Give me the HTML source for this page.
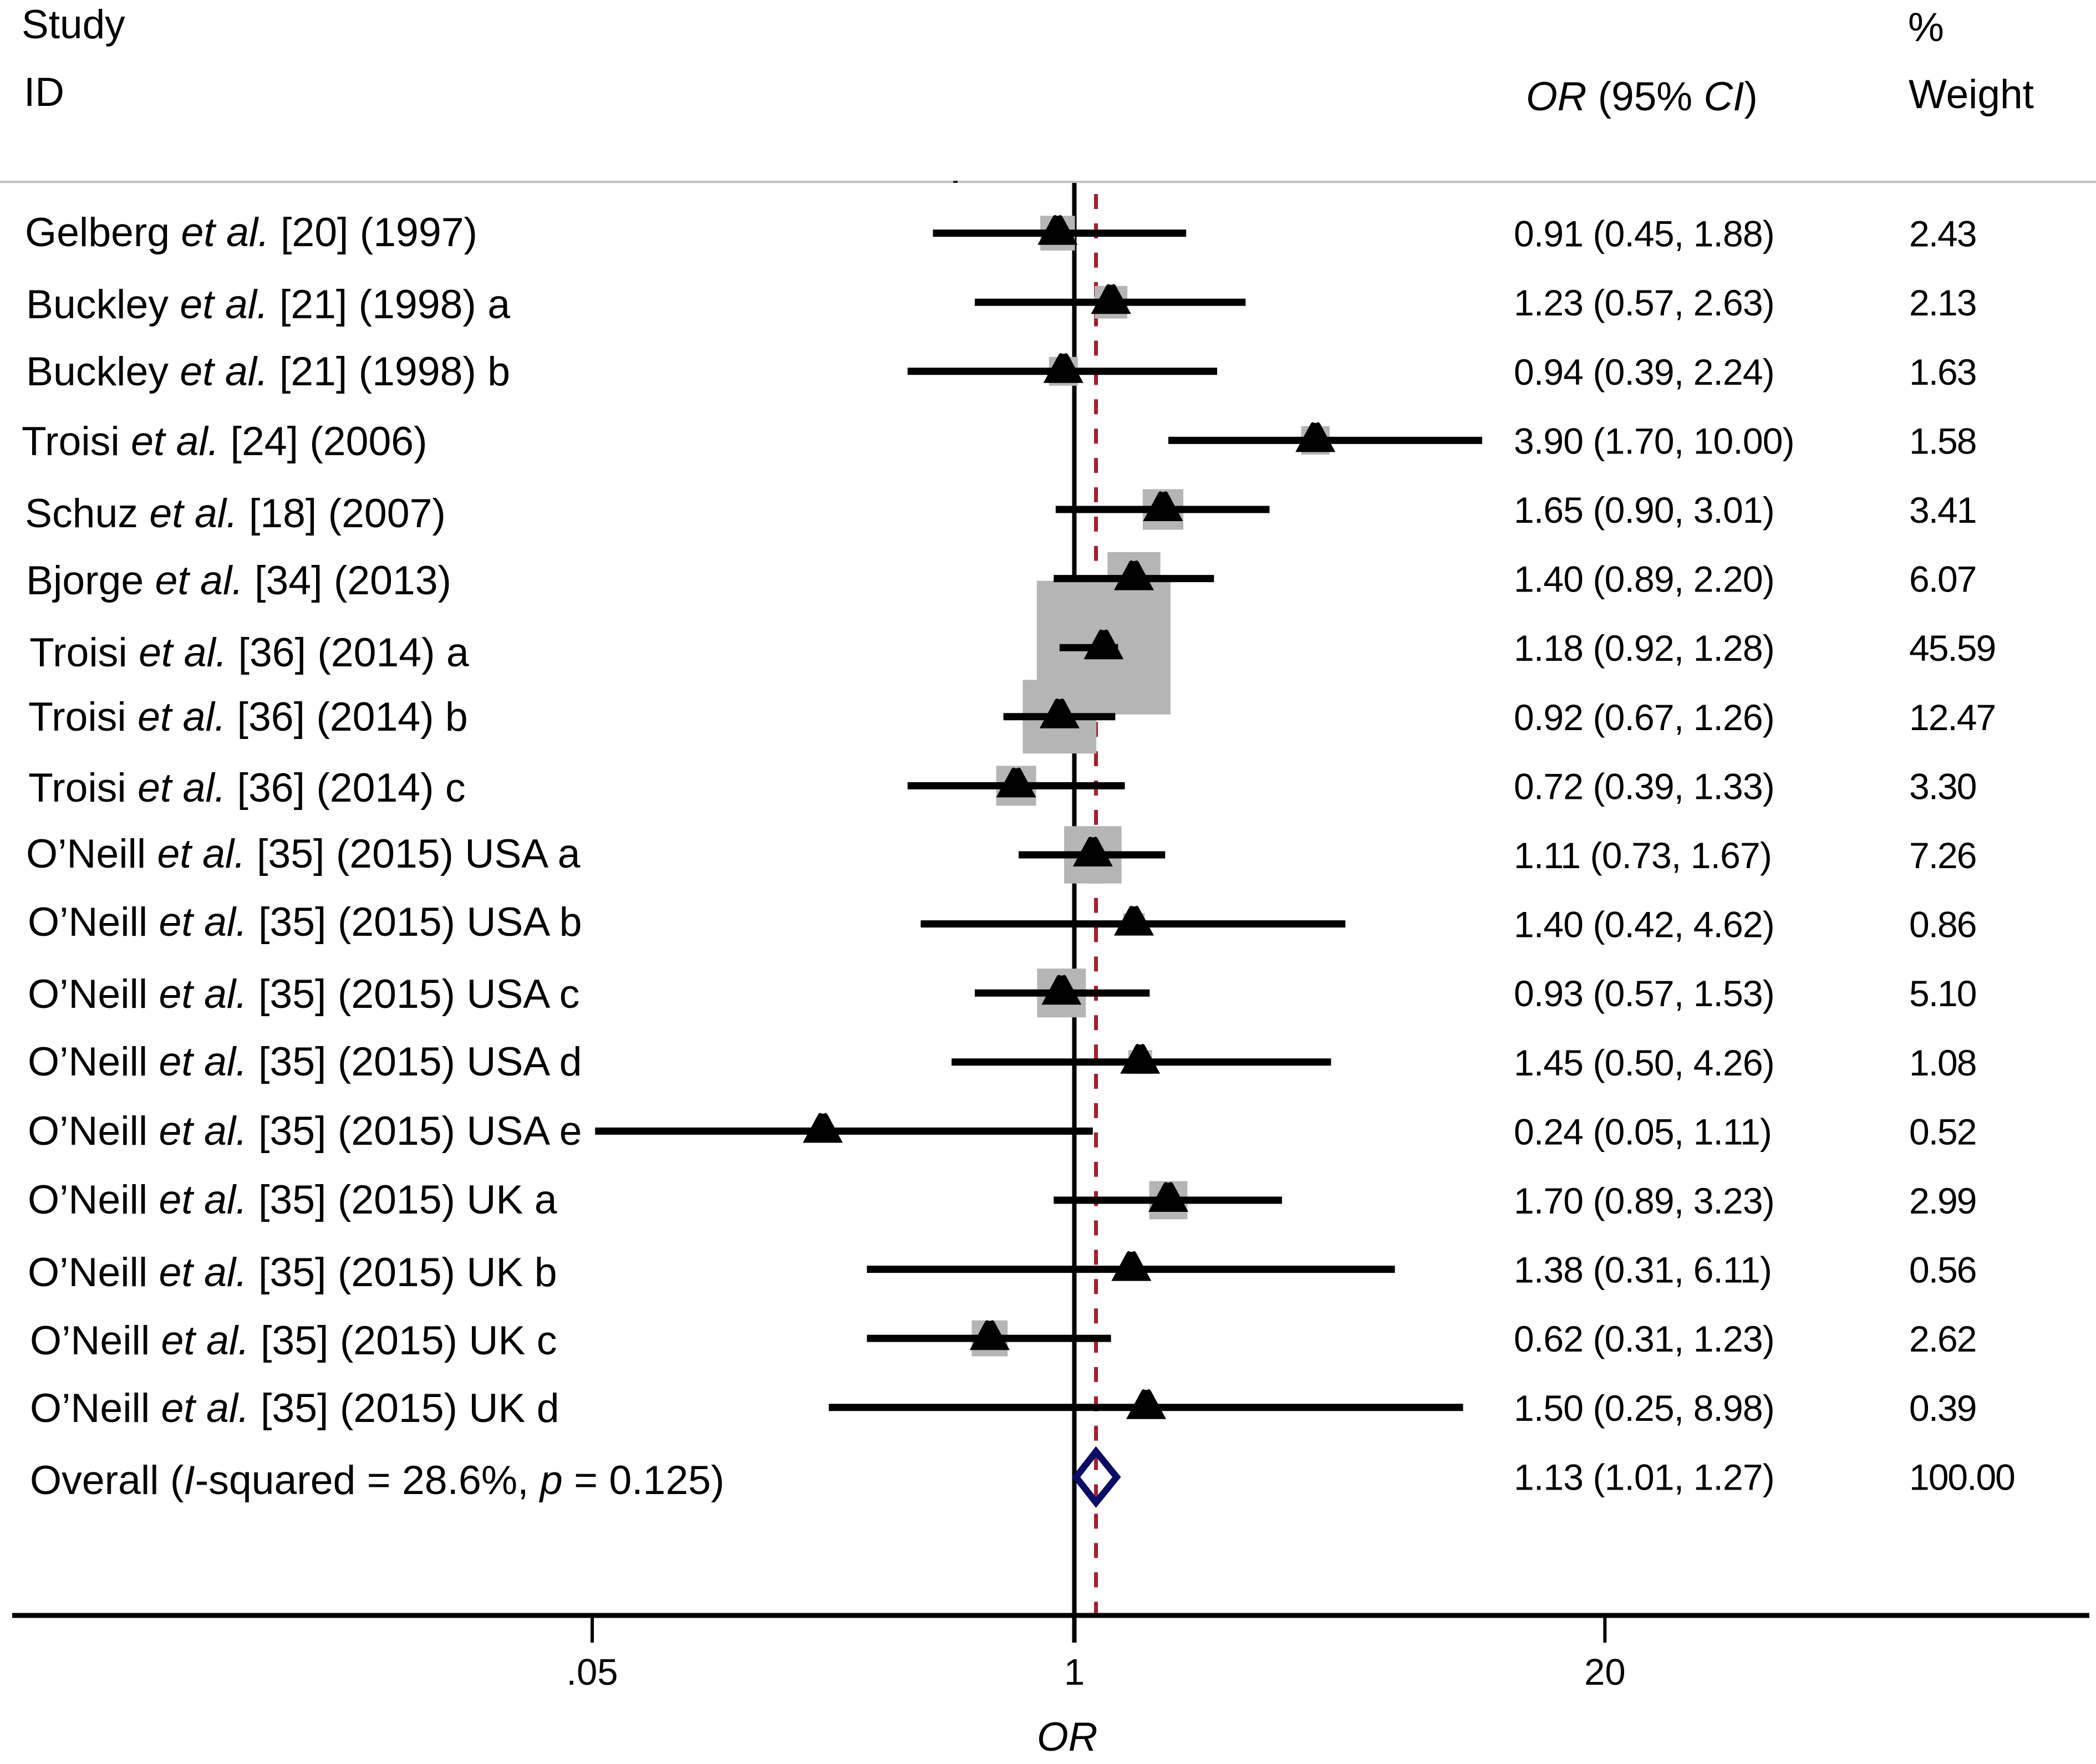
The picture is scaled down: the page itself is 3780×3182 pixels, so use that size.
<!DOCTYPE html>
<html lang="en">
<head>
<meta charset="utf-8">
<title>Forest plot of odds ratios</title>
<style>
  html, body { margin: 0; padding: 0; background: #fff; }
  svg { display: block; }
  text { font-family: "Liberation Sans", Arial, sans-serif; fill: #000; }
  .lbl { font-size: 73px; }
  .study { font-size: 73.4px; }
  .val { font-size: 66px; letter-spacing: -0.85px; }
  .wgt { font-size: 66px; letter-spacing: -2px; }
  .tick { font-size: 67px; text-anchor: middle; }
  .it { font-style: italic; }
</style>
</head>
<body>
<svg id="chart" xmlns="http://www.w3.org/2000/svg" width="3780" height="3182" viewBox="0 0 3780 3182">
  <rect x="0" y="0" width="3780" height="3182" fill="#ffffff"/>

  <g id="marks"></g>

  <rect x="0" y="326" width="3780" height="4" fill="#c2c2c2"/>
  <rect x="1719" y="326" width="8" height="4" fill="#222"/>

  <g>
    <text class="lbl" x="39" y="69">Study</text>
    <text class="lbl" x="43" y="191">ID</text>
    <text class="lbl" x="2752" y="199"><tspan class="it">OR</tspan> (95% <tspan class="it">CI</tspan>)</text>
    <text class="lbl" x="3441" y="74">%</text>
    <text class="lbl" x="3442" y="195">Weight</text>
  </g>

  <g>
    <text class="study" x="45" y="444">Gelberg <tspan class="it">et al.</tspan> [20] (1997)</text>
    <text class="study" x="47" y="574">Buckley <tspan class="it">et al.</tspan> [21] (1998) a</text>
    <text class="study" x="47" y="695">Buckley <tspan class="it">et al.</tspan> [21] (1998) b</text>
    <text class="study" x="39" y="821">Troisi <tspan class="it">et al.</tspan> [24] (2006)</text>
    <text class="study" x="45" y="951">Schuz <tspan class="it">et al.</tspan> [18] (2007)</text>
    <text class="study" x="47" y="1072">Bjorge <tspan class="it">et al.</tspan> [34] (2013)</text>
    <text class="study" x="53" y="1202">Troisi <tspan class="it">et al.</tspan> [36] (2014) a</text>
    <text class="study" x="51" y="1318">Troisi <tspan class="it">et al.</tspan> [36] (2014) b</text>
    <text class="study" x="51" y="1446">Troisi <tspan class="it">et al.</tspan> [36] (2014) c</text>
    <text class="study" x="47" y="1565">O’Neill <tspan class="it">et al.</tspan> [35] (2015) USA a</text>
    <text class="study" x="50" y="1688">O’Neill <tspan class="it">et al.</tspan> [35] (2015) USA b</text>
    <text class="study" x="50" y="1818">O’Neill <tspan class="it">et al.</tspan> [35] (2015) USA c</text>
    <text class="study" x="50" y="1940">O’Neill <tspan class="it">et al.</tspan> [35] (2015) USA d</text>
    <text class="study" x="50" y="2065">O’Neill <tspan class="it">et al.</tspan> [35] (2015) USA e</text>
    <text class="study" x="50" y="2189">O’Neill <tspan class="it">et al.</tspan> [35] (2015) UK a</text>
    <text class="study" x="50" y="2320">O’Neill <tspan class="it">et al.</tspan> [35] (2015) UK b</text>
    <text class="study" x="54" y="2443">O’Neill <tspan class="it">et al.</tspan> [35] (2015) UK c</text>
    <text class="study" x="54" y="2565">O’Neill <tspan class="it">et al.</tspan> [35] (2015) UK d</text>
    <text class="study" x="54" y="2695">Overall (<tspan class="it">I</tspan>-squared = 28.6%, <tspan class="it">p</tspan> = 0.125)</text>
  </g>

  <g id="values"></g>
  <g id="axis"></g>
  <text class="lbl it" x="1870" y="3158">OR</text>
</svg>

<script>
// ---------- data ----------
const orValues = [0.91, 1.23, 0.94, 3.90, 1.65, 1.40, 1.18, 0.92, 0.72, 1.11, 1.40, 0.93, 1.45, 0.24, 1.70, 1.38, 0.62, 1.50];
const ciLow    = [0.45, 0.57, 0.39, 1.70, 0.90, 0.89, 0.92, 0.67, 0.39, 0.73, 0.42, 0.57, 0.50, 0.051, 0.89, 0.31, 0.31, 0.25];
const ciHigh   = [1.88, 2.63, 2.24, 10.00, 3.01, 2.20, 1.28, 1.26, 1.33, 1.67, 4.62, 1.53, 4.26, 1.11, 3.23, 6.11, 1.23, 8.98];
const weights  = [2.43, 2.13, 1.63, 1.58, 3.41, 6.07, 45.59, 12.47, 3.30, 7.26, 0.86, 5.10, 1.08, 0.52, 2.99, 0.56, 2.62, 0.39];
const overallOR = 1.13;
const overallLow = 1.01;
const overallHigh = 1.27;
const overallWeight = 100;
const orLabels = [
  "0.91 (0.45, 1.88)", "1.23 (0.57, 2.63)", "0.94 (0.39, 2.24)", "3.90 (1.70, 10.00)",
  "1.65 (0.90, 3.01)", "1.40 (0.89, 2.20)", "1.18 (0.92, 1.28)", "0.92 (0.67, 1.26)",
  "0.72 (0.39, 1.33)", "1.11 (0.73, 1.67)", "1.40 (0.42, 4.62)", "0.93 (0.57, 1.53)",
  "1.45 (0.50, 4.26)", "0.24 (0.05, 1.11)", "1.70 (0.89, 3.23)", "1.38 (0.31, 6.11)",
  "0.62 (0.31, 1.23)", "1.50 (0.25, 8.98)", "1.13 (1.01, 1.27)"
];
const weightLabels = ["2.43","2.13","1.63","1.58","3.41","6.07","45.59","12.47","3.30","7.26","0.86","5.10","1.08","0.52","2.99","0.56","2.62","0.39","100.00"];
const tickValues = [0.05, 1, 20];
const tickLabels = [".05", "1", "20"];

// ---------- axis functions ----------
const NS = "http://www.w3.org/2000/svg";
const X_ONE = 1937.5, K = 319.4, BREAK_V = 0.25, X_TICK_LOW = 1068;
// log scale; the published figure compresses the range below 0.25
function xScale(v) {
  if (v >= BREAK_V) return X_ONE + K * Math.log(v);
  const xb = X_ONE + K * Math.log(BREAK_V);
  return xb - (xb - X_TICK_LOW) * Math.log(BREAK_V / v) / Math.log(BREAK_V / 0.05);
}
function rowY(i) { return 420.6 + i * 124.6; }
function boxSide(w) { return 41.6 * Math.pow(w, 0.46); }

function el(tag, parent) {
  const e = document.createElementNS(NS, tag);
  parent.appendChild(e);
  return e;
}
function setAll(e, attrs) { for (const k in attrs) e.setAttribute(k, attrs[k]); }

const marks = document.getElementById("marks");
const values = document.getElementById("values");
const axis = document.getElementById("axis");
const AXIS_Y = 2914, TICK_END = 2963, TOP_Y = 328;

// reference lines
const refLine = el("line", marks);
setAll(refLine, { x1: xScale(1), x2: xScale(1), y1: TOP_Y, y2: TICK_END, stroke: "#000", "stroke-width": 8 });



const pooled = el("line", marks);
setAll(pooled, { x1: xScale(overallOR), x2: xScale(overallOR), y1: 350, y2: 2910, stroke: "#a51e2e", "stroke-width": 7, "stroke-dasharray": "27 25.9" });



// weight boxes
orValues.forEach(function (v, i) {
  const s = boxSide(weights[i]);
  const r = el("rect", marks);
  setAll(r, { x: xScale(v) - s / 2, y: rowY(i) - s / 2, width: s, height: s, fill: "#b5b5b5" });
  
  
});

// confidence intervals
orValues.forEach(function (v, i) {
  const l = el("line", marks);
  setAll(l, { x1: xScale(ciLow[i]), x2: xScale(ciHigh[i]), y1: rowY(i), y2: rowY(i), stroke: "#000", "stroke-width": 13 });
  
  
});

// point-estimate triangles
orValues.forEach(function (v, i) {
  const x = xScale(v), y = rowY(i);
  const t = el("polygon", marks);
  const pts = [[-36, 21], [-8, -31], [-5, -33], [-2, -31.5], [2, -31.5], [5, -33], [8, -31], [36, 21]];
  t.setAttribute("points", pts.map(function (p) { return (x + p[0]) + "," + (y + p[1]); }).join(" "));
  t.setAttribute("fill", "#000");
  
  
});

// overall diamond
(function () {
  const y = rowY(orValues.length) + 1;
  const h = 46;
  const d = el("polygon", marks);
  const p = [[xScale(overallLow), y], [xScale(overallOR), y - h], [xScale(overallHigh), y], [xScale(overallOR), y + h]];
  d.setAttribute("points", p.map(function (q) { return q.join(","); }).join(" "));
  setAll(d, { fill: "none", stroke: "#0c0c66", "stroke-width": 12 });
  
  
})();

// printed value columns
orLabels.forEach(function (txt, i) {
  const y = rowY(i) + 24;
  const t = el("text", values);
  setAll(t, { class: "val", x: 2730, y: y });
  t.textContent = txt;
  
  
});
weightLabels.forEach(function (txt, i) {
  const y = rowY(i) + 24;
  const t = el("text", values);
  setAll(t, { class: "wgt", x: 3443, y: y });
  t.textContent = txt;
  
  
});

// x axis
const axisLine = el("rect", axis);
setAll(axisLine, { x: 22, y: AXIS_Y - 4.5, width: 3746, height: 9, fill: "#000" });



tickValues.forEach(function (v, i) {
  const tk = el("line", axis);
  setAll(tk, { x1: xScale(v), x2: xScale(v), y1: AXIS_Y, y2: TICK_END, stroke: "#000", "stroke-width": 6 });
  
  
  const lb = el("text", axis);
  setAll(lb, { class: "tick", x: xScale(v), y: 3039 });
  lb.textContent = tickLabels[i];
  
  
});
</script>
</body>
</html>
